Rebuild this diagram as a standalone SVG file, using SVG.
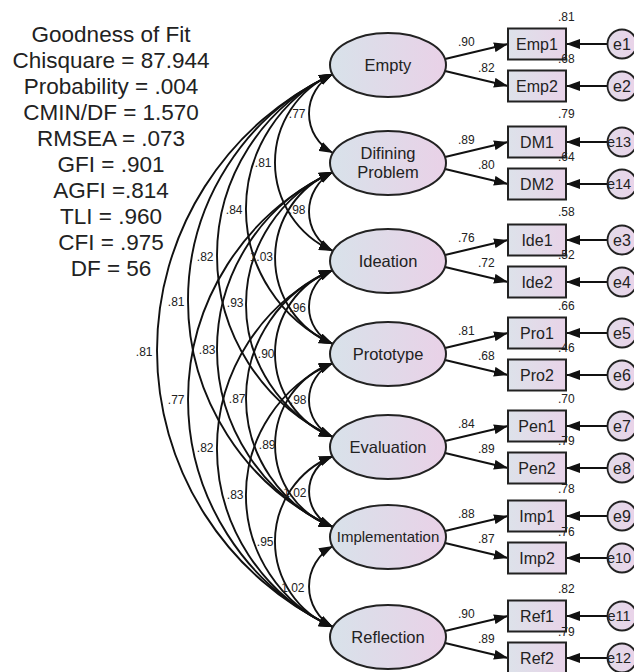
<svg xmlns="http://www.w3.org/2000/svg" width="634" height="672" viewBox="0 0 634 672">
<style>
text{font-family:"Liberation Sans",Arial,sans-serif;fill:#222}
.fit{font-size:22.5px;text-anchor:middle}
.lbl{font-size:12px}
.cl{font-size:12px;text-anchor:end}
.nt{font-size:16.5px;text-anchor:middle}
.rt{font-size:16px;text-anchor:middle}
.et{font-size:14.5px;text-anchor:middle}
.lat{fill:url(#gE);stroke:#222;stroke-width:2}
.obs{fill:url(#gR);stroke:#222;stroke-width:2}
.err{fill:url(#gC);stroke:#222;stroke-width:1.8}
.cov{fill:none;stroke:#111;stroke-width:1.9;marker-start:url(#ah);marker-end:url(#ah)}
.ld{fill:none;stroke:#111;stroke-width:1.9;marker-end:url(#ah)}
</style>
<defs>
<linearGradient id="gE" x1="0" y1="0" x2="1" y2="0"><stop offset="0" stop-color="#d8e2ea"/><stop offset="1" stop-color="#e9d1e7"/></linearGradient>
<linearGradient id="gR" x1="0" y1="0" x2="1" y2="0"><stop offset="0" stop-color="#dde2ea"/><stop offset="1" stop-color="#e8d3e8"/></linearGradient>
<linearGradient id="gC" x1="0" y1="0" x2="1" y2="0"><stop offset="0" stop-color="#e2dbe9"/><stop offset="1" stop-color="#ead3e9"/></linearGradient>
<marker id="ah" viewBox="0 0 14 10" refX="14" refY="5" markerWidth="14" markerHeight="10" markerUnits="userSpaceOnUse" orient="auto-start-reverse"><path d="M0,0 L14,5 L0,10 z" fill="#111"/></marker>
</defs>

<g id="fit">
<text class="fit" x="111" y="42">Goodness of Fit</text>
<text class="fit" x="111" y="68">Chisquare = 87.944</text>
<text class="fit" x="111" y="94">Probability = .004</text>
<text class="fit" x="111" y="120">CMIN/DF = 1.570</text>
<text class="fit" x="111" y="146">RMSEA = .073</text>
<text class="fit" x="111" y="172">GFI = .901</text>
<text class="fit" x="111" y="198">AGFI =.814</text>
<text class="fit" x="111" y="224">TLI = .960</text>
<text class="fit" x="111" y="250">CFI = .975</text>
<text class="fit" x="111" y="276">DF = 56</text>
</g>

<g id="connectors">
<path class="cov" d="M333,74 A44.5,44.5 0 0 0 333,153"/>
<path class="cov" d="M333,172 A44.5,44.5 0 0 0 333,251"/>
<path class="cov" d="M333,270 A40.5,40.5 0 0 0 333,344"/>
<path class="cov" d="M333,363 A40.5,40.5 0 0 0 333,437"/>
<path class="cov" d="M333,456 A38.3,38.3 0 0 0 333,527"/>
<path class="cov" d="M333,546 A46.2,46.2 0 0 0 333,627"/>
<path class="cov" d="M333,74 A96.5,96.5 0 0 0 333,251"/>
<path class="cov" d="M333,172 A92.8,92.8 0 0 0 333,344"/>
<path class="cov" d="M333,270 A89.1,89.1 0 0 0 333,437"/>
<path class="cov" d="M333,363 A87,87 0 0 0 333,527"/>
<path class="cov" d="M333,456 A92,92 0 0 0 333,627"/>
<path class="cov" d="M333,74 A148.2,148.2 0 0 0 333,344"/>
<path class="cov" d="M333,172 A144.4,144.4 0 0 0 333,437"/>
<path class="cov" d="M333,270 A138.4,138.4 0 0 0 333,527"/>
<path class="cov" d="M333,363 A143.6,143.6 0 0 0 333,627"/>
<path class="cov" d="M333,74 A200,200 0 0 0 333,437"/>
<path class="cov" d="M333,172 A193.8,193.8 0 0 0 333,527"/>
<path class="cov" d="M333,270 A195.3,195.3 0 0 0 333,627"/>
<path class="cov" d="M333,74 A249.4,249.4 0 0 0 333,527"/>
<path class="cov" d="M333,172 A251,251 0 0 0 333,627"/>
<path class="cov" d="M333,74 A305.2,305.2 0 0 0 333,627"/>

<text class="cl" x="305.5" y="118">.77</text>
<text class="cl" x="271.5" y="167">.81</text>
<text class="cl" x="242.5" y="214">.84</text>
<text class="cl" x="213.5" y="261">.82</text>
<text class="cl" x="184.5" y="306">.81</text>
<text class="cl" x="152.5" y="356">.81</text>
<text class="cl" x="305.5" y="214">.98</text>
<text class="cl" x="273" y="261">1.03</text>
<text class="cl" x="243.5" y="307">.93</text>
<text class="cl" x="215.5" y="354">.83</text>
<text class="cl" x="184.5" y="404">.77</text>
<text class="cl" x="306" y="312">.96</text>
<text class="cl" x="274.5" y="358">.90</text>
<text class="cl" x="245.5" y="403">.87</text>
<text class="cl" x="213.5" y="452">.82</text>
<text class="cl" x="306.5" y="404">.98</text>
<text class="cl" x="275.5" y="449">.89</text>
<text class="cl" x="243.5" y="499">.83</text>
<text class="cl" x="306.5" y="497">1.02</text>
<text class="cl" x="273.5" y="546">.95</text>
<text class="cl" x="304.5" y="592">1.02</text>

<path class="ld" d="M445,59 L508,44"/><path class="ld" d="M445,71 L508,86"/>
<path class="ld" d="M445,157 L508,142"/><path class="ld" d="M445,169 L508,184"/>
<path class="ld" d="M445,255 L508,240"/><path class="ld" d="M445,267 L508,282"/>
<path class="ld" d="M445,348 L508,333"/><path class="ld" d="M445,360 L508,375"/>
<path class="ld" d="M445,441 L508,426"/><path class="ld" d="M445,453 L508,468"/>
<path class="ld" d="M445,531 L508,516"/><path class="ld" d="M445,543 L508,558"/>
<path class="ld" d="M445,631 L508,616"/><path class="ld" d="M445,643 L508,658"/>

<path class="ld" d="M607,44 L566,44"/><path class="ld" d="M607,86 L566,86"/>
<path class="ld" d="M607,142 L566,142"/><path class="ld" d="M607,184 L566,184"/>
<path class="ld" d="M607,240 L566,240"/><path class="ld" d="M607,282 L566,282"/>
<path class="ld" d="M607,333 L566,333"/><path class="ld" d="M607,375 L566,375"/>
<path class="ld" d="M607,426 L566,426"/><path class="ld" d="M607,468 L566,468"/>
<path class="ld" d="M607,516 L566,516"/><path class="ld" d="M607,558 L566,558"/>
<path class="ld" d="M607,616 L566,616"/><path class="ld" d="M607,658 L566,658"/>

<text class="lbl" x="458" y="46">.90</text><text class="lbl" x="478" y="72">.82</text>
<text class="lbl" x="458" y="144">.89</text><text class="lbl" x="478" y="169">.80</text>
<text class="lbl" x="458" y="242">.76</text><text class="lbl" x="478" y="267">.72</text>
<text class="lbl" x="458" y="335">.81</text><text class="lbl" x="478" y="360">.68</text>
<text class="lbl" x="458" y="428">.84</text><text class="lbl" x="478" y="453">.89</text>
<text class="lbl" x="458" y="518">.88</text><text class="lbl" x="478" y="543">.87</text>
<text class="lbl" x="458" y="618">.90</text><text class="lbl" x="478" y="643">.89</text>
</g>

<g id="Empty"><ellipse class="lat" cx="388" cy="65" rx="58" ry="32"/><text class="nt" x="388" y="71">Empty</text></g>
<g id="DefiningProblem"><ellipse class="lat" cx="388" cy="163" rx="58" ry="32"/><text class="nt" x="388" y="159">Difining</text><text class="nt" x="388" y="178">Problem</text></g>
<g id="Ideation"><ellipse class="lat" cx="388" cy="261" rx="58" ry="32"/><text class="nt" x="388" y="267">Ideation</text></g>
<g id="Prototype"><ellipse class="lat" cx="388" cy="354" rx="58" ry="32"/><text class="nt" x="388" y="360">Prototype</text></g>
<g id="Evaluation"><ellipse class="lat" cx="388" cy="447" rx="58" ry="32"/><text class="nt" x="388" y="453">Evaluation</text></g>
<g id="Implementation"><ellipse class="lat" cx="388" cy="537" rx="58" ry="32"/><text class="nt" x="388" y="542" style="font-size:15px">Implementation</text></g>
<g id="Reflection"><ellipse class="lat" cx="388" cy="637" rx="58" ry="32"/><text class="nt" x="388" y="643">Reflection</text></g>

<g id="Emp1"><rect class="obs" x="508" y="28.5" width="58" height="31"/><text class="rt" x="537" y="50">Emp1</text><text class="lbl" x="558" y="21">.81</text></g>
<g id="Emp2"><rect class="obs" x="508" y="70.5" width="58" height="31"/><text class="rt" x="537" y="92">Emp2</text><text class="lbl" x="558" y="63">.68</text></g>
<g id="DM1"><rect class="obs" x="508" y="126.5" width="58" height="31"/><text class="rt" x="537" y="148">DM1</text><text class="lbl" x="558" y="118">.79</text></g>
<g id="DM2"><rect class="obs" x="508" y="168.5" width="58" height="31"/><text class="rt" x="537" y="190">DM2</text><text class="lbl" x="558" y="161">.64</text></g>
<g id="Ide1"><rect class="obs" x="508" y="224.5" width="58" height="31"/><text class="rt" x="537" y="246">Ide1</text><text class="lbl" x="558" y="216">.58</text></g>
<g id="Ide2"><rect class="obs" x="508" y="266.5" width="58" height="31"/><text class="rt" x="537" y="288">Ide2</text><text class="lbl" x="558" y="259">.52</text></g>
<g id="Pro1"><rect class="obs" x="508" y="317.5" width="58" height="31"/><text class="rt" x="537" y="339">Pro1</text><text class="lbl" x="558" y="310">.66</text></g>
<g id="Pro2"><rect class="obs" x="508" y="359.5" width="58" height="31"/><text class="rt" x="537" y="381">Pro2</text><text class="lbl" x="558" y="352">.46</text></g>
<g id="Pen1"><rect class="obs" x="508" y="410.5" width="58" height="31"/><text class="rt" x="537" y="432">Pen1</text><text class="lbl" x="558" y="403">.70</text></g>
<g id="Pen2"><rect class="obs" x="508" y="452.5" width="58" height="31"/><text class="rt" x="537" y="474">Pen2</text><text class="lbl" x="558" y="445">.79</text></g>
<g id="Imp1"><rect class="obs" x="508" y="500.5" width="58" height="31"/><text class="rt" x="537" y="522">Imp1</text><text class="lbl" x="558" y="493">.78</text></g>
<g id="Imp2"><rect class="obs" x="508" y="542.5" width="58" height="31"/><text class="rt" x="537" y="564">Imp2</text><text class="lbl" x="558" y="536">.76</text></g>
<g id="Ref1"><rect class="obs" x="508" y="600.5" width="58" height="31"/><text class="rt" x="537" y="622">Ref1</text><text class="lbl" x="558" y="593">.82</text></g>
<g id="Ref2"><rect class="obs" x="508" y="642.5" width="58" height="31"/><text class="rt" x="537" y="664">Ref2</text><text class="lbl" x="558" y="636">.79</text></g>

<g id="e1"><circle class="err" cx="622" cy="44" r="14.5"/><text class="rt" x="622" y="50">e1</text></g>
<g id="e2"><circle class="err" cx="622" cy="86" r="14.5"/><text class="rt" x="622" y="92">e2</text></g>
<g id="e13"><circle class="err" cx="622" cy="142" r="14.5"/><text class="et" x="619" y="147">e13</text></g>
<g id="e14"><circle class="err" cx="622" cy="184" r="14.5"/><text class="et" x="619" y="189">e14</text></g>
<g id="e3"><circle class="err" cx="622" cy="240" r="14.5"/><text class="rt" x="622" y="246">e3</text></g>
<g id="e4"><circle class="err" cx="622" cy="282" r="14.5"/><text class="rt" x="622" y="288">e4</text></g>
<g id="e5"><circle class="err" cx="622" cy="333" r="14.5"/><text class="rt" x="622" y="339">e5</text></g>
<g id="e6"><circle class="err" cx="622" cy="375" r="14.5"/><text class="rt" x="622" y="381">e6</text></g>
<g id="e7"><circle class="err" cx="622" cy="426" r="14.5"/><text class="rt" x="622" y="432">e7</text></g>
<g id="e8"><circle class="err" cx="622" cy="468" r="14.5"/><text class="rt" x="622" y="474">e8</text></g>
<g id="e9"><circle class="err" cx="622" cy="516" r="14.5"/><text class="rt" x="622" y="522">e9</text></g>
<g id="e10"><circle class="err" cx="622" cy="558" r="14.5"/><text class="et" x="619" y="563">e10</text></g>
<g id="e11"><circle class="err" cx="622" cy="616" r="14.5"/><text class="et" x="619" y="621">e11</text></g>
<g id="e12"><circle class="err" cx="622" cy="658" r="14.5"/><text class="et" x="619" y="663">e12</text></g>
</svg>
